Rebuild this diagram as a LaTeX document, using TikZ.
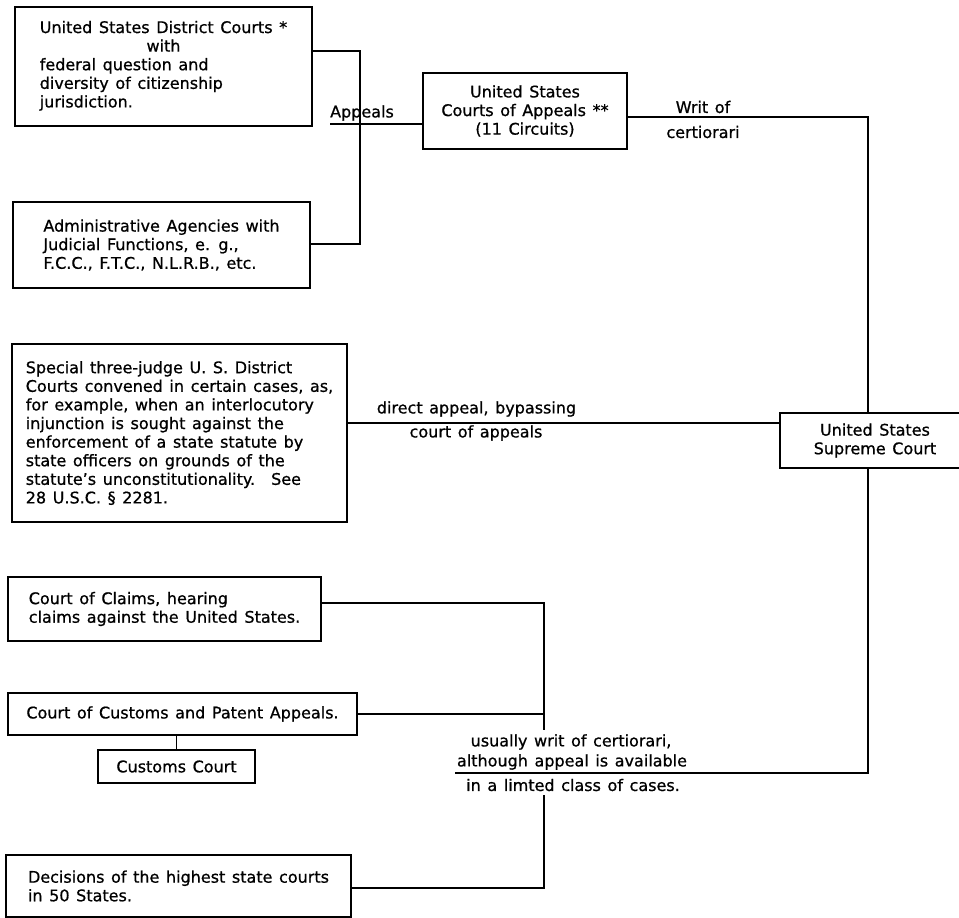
\documentclass[tikz,border=0pt]{standalone}
\usepackage{fontspec}
\setmainfont{DejaVu Sans}[WordSpace=1.3, FakeBold=0.8]
\newcommand\mainfs{\fontsize{16}{18.6}\selectfont}
\begin{document}
\begin{tikzpicture}[x=1pt,y=-1pt,
  box/.style={draw, line width=1.5pt, inner sep=0pt, align=left, font=\mainfs},
  lbl/.style={inner sep=0pt, align=center, font=\mainfs},
  conn/.style={line width=1.5pt}]
\useasboundingbox (0,0) rectangle (959,918);

% boxes
\node[box, minimum width=297pt, minimum height=119pt] (dc) at (163.5,66.5)
  {\begin{tabular}{@{}l@{}}United States District Courts *\\ \multicolumn{1}{@{}c@{}}{with}\\ federal question and\\ diversity of citizenship\\ jurisdiction.\end{tabular}};
\node[box, minimum width=297pt, minimum height=86pt] (adm) at (161.5,245)
  {Administrative Agencies with\\Judicial Functions, e. g.,\\F.C.C., F.T.C., N.L.R.B., etc.};
\node[box, align=center, minimum width=204pt, minimum height=76pt] (coa) at (525,111)
  {United States\\Courts of Appeals **\\(11 Circuits)};
\node[box, minimum width=335pt, minimum height=178pt] (sp) at (179.5,433)
  {Special three-judge U. S. District\\Courts convened in certain cases, as,\\for example, when an interlocutory\\injunction is sought against the\\enforcement of a state statute by\\state officers on grounds of the\\statute’s unconstitutionality.\quad See\\28 U.S.C. § 2281.};
\node[box, align=center, minimum width=190pt, minimum height=55pt] (sup) at (875,440.5)
  {United States\\Supreme Court};
\node[box, minimum width=313pt, minimum height=64pt] (cl) at (164.5,609)
  {Court of Claims, hearing\\claims against the United States.};
\node[box, minimum width=349pt, minimum height=42pt] (cpa) at (182.5,714)
  {Court of Customs and Patent Appeals.};
\node[box, minimum width=157pt, minimum height=33pt] (cc) at (176.5,766.5)
  {Customs Court};
\node[box, minimum width=345pt, minimum height=62pt] (dec) at (178.5,886)
  {Decisions of the highest state courts\\in 50 States.};

% junctions
\coordinate (j1) at (360,51);
\coordinate (j2) at (360,244);
\coordinate (a0) at (330,124);
\coordinate (w1) at (868,117);
\coordinate (dy) at (0,423);
\coordinate (b1) at (544,603);
\coordinate (b2) at (544,730);
\coordinate (b3) at (455,773);
\coordinate (b4) at (868,773);
\coordinate (b5) at (544,795);
\coordinate (b6) at (544,888);

% connectors
\draw[conn] (dc.east |- j1) -- (j1) -- (j2) -- (adm.east |- j2);
\draw[conn] (a0) -- (coa.west |- a0);
\draw[conn] (coa.east |- w1) -- (w1) -- (sup.north -| w1);
\draw[conn] (sp.east |- dy) -- (sup.west |- dy);
\draw[conn] (cl.east |- b1) -- (b1) -- (b2);
\draw[conn] (cpa.east) -- (cpa.east -| b1);
\draw[conn] (b3) -- (b4) -- (sup.south -| b4);
\draw[conn] (b5) -- (b6) -- (dec.east |- b6);
\draw[conn] (cc.north) -- (cc.north |- cpa.south);

% labels
\node[lbl] (lapp) at (362,113) {Appeals};
\node[lbl] (lw1) at (703,107) {Writ of};
\node[lbl] (lw2) at (703,132) {certiorari};
\node[lbl] (ld1) at (476.5,409) {direct appeal, bypassing};
\node[lbl] (ld2) at (476,433) {court of appeals};
\node[lbl] (lu1) at (571,742) {usually writ of certiorari,};
\node[lbl] (lu2) at (572,762) {although appeal is available};
\node[lbl] (lu3) at (573,785) {in a limted class of cases.};
\end{tikzpicture}
\end{document}
